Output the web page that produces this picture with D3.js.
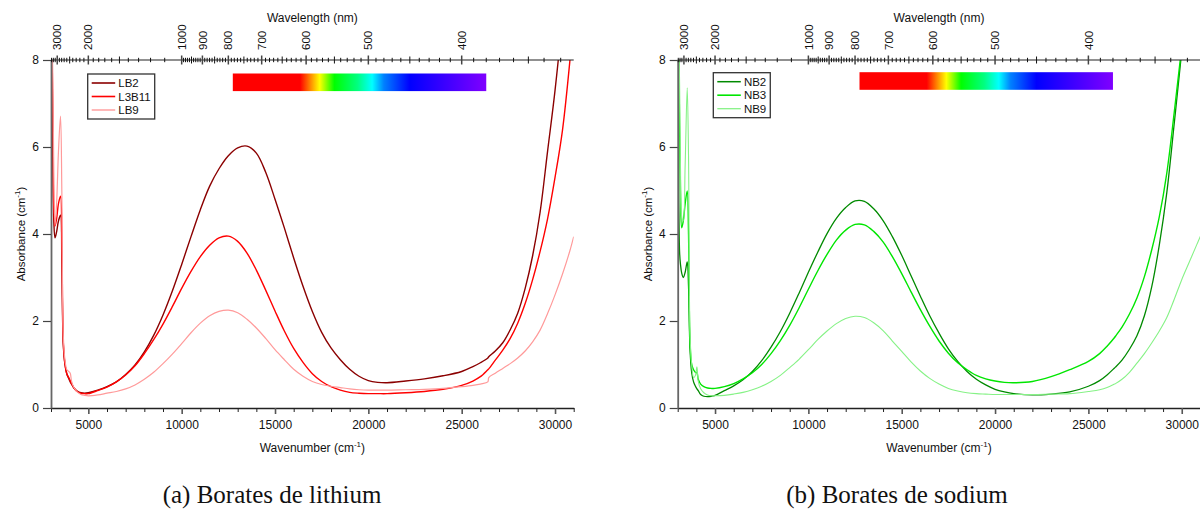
<!DOCTYPE html>
<html><head><meta charset="utf-8">
<script src="https://cdn.jsdelivr.net/npm/d3@7"></script>
<style>body{margin:0;background:#fff}svg{display:block}</style>
</head><body>
<svg id="chart" width="1200" height="513"></svg>
<script>
// ---------- data ----------
const wavenumbers = [3030,3100,3150,3214,3300,3400,3510,3580,3660,3750,
3850,3950,4030,4100,4230,4400,4600,4800,5000,5500,
6000,6500,7000,7500,8000,8500,9000,9500,10000,10500,
11000,11500,12000,12500,13000,13500,14000,14500,15000,15500,
16000,16500,17000,17500,18000,18500,19000,19500,20000,20500,
21000,22000,23000,24000,25000,25600,26000,26400,26450,26800,
27200,27600,28000,28400,28800,29200,29600,30000,30400,30800,
31000];
const LB2 = [9.5,6.0,4.3,3.91,4.05,4.3,4.43,3.3,1.45,1.0,
0.78,0.68,0.6,0.55,0.46,0.39,0.35,0.34,0.35,0.41,
0.49,0.60,0.77,0.99,1.29,1.67,2.14,2.69,3.30,3.94,
4.56,5.10,5.50,5.80,5.98,6.02,5.86,5.42,4.80,4.14,
3.45,2.80,2.22,1.74,1.38,1.11,0.89,0.73,0.63,0.59,
0.58,0.62,0.67,0.74,0.84,0.95,1.04,1.15,1.18,1.31,
1.50,1.80,2.18,2.75,3.50,4.50,5.90,7.30,9.0,11.0,
12.0];
const L3B11 = [9.5,6.5,4.6,4.18,4.35,4.7,4.87,3.8,1.5,1.0,
0.78,0.70,0.63,0.56,0.46,0.38,0.34,0.33,0.33,0.40,
0.48,0.60,0.76,0.97,1.25,1.57,1.93,2.33,2.75,3.14,
3.48,3.74,3.91,3.95,3.83,3.56,3.17,2.71,2.23,1.77,
1.37,1.05,0.79,0.61,0.49,0.41,0.36,0.34,0.33,0.33,
0.33,0.35,0.38,0.43,0.52,0.62,0.72,0.88,0.90,1.10,
1.33,1.60,1.95,2.40,2.95,3.60,4.35,5.30,6.39,8.0,
9.0];
const LB9 = [9.5,7.5,5.4,4.2,4.7,5.9,6.71,5.0,1.65,1.1,
0.88,0.84,0.80,0.62,0.47,0.37,0.31,0.29,0.28,0.30,
0.34,0.38,0.44,0.53,0.66,0.82,1.02,1.24,1.48,1.73,
1.95,2.12,2.22,2.25,2.19,2.04,1.84,1.60,1.34,1.11,
0.89,0.73,0.61,0.54,0.50,0.47,0.44,0.42,0.41,0.41,
0.41,0.42,0.43,0.45,0.49,0.52,0.55,0.60,0.70,0.80,
0.91,1.02,1.15,1.31,1.52,1.79,2.17,2.60,3.08,3.62,
3.94];
const NB2 = [9.5,3.6,3.3,3.1,3.0,3.12,3.36,2.8,1.35,0.81,
0.6,0.5,0.44,0.4,0.31,0.27,0.26,0.27,0.29,0.40,
0.51,0.65,0.84,1.09,1.40,1.76,2.18,2.64,3.12,3.58,
4.01,4.36,4.61,4.76,4.75,4.58,4.31,3.94,3.51,3.04,
2.57,2.12,1.72,1.36,1.07,0.84,0.66,0.53,0.43,0.37,
0.33,0.30,0.32,0.37,0.50,0.63,0.76,0.92,0.94,1.10,
1.35,1.66,2.12,2.80,3.75,4.95,6.55,8.2,10.0,12.0,
13.0];
const NB3 = [9.5,6.5,5.0,4.14,4.3,4.7,4.99,4.0,1.5,1.0,
0.88,0.82,0.81,0.66,0.55,0.49,0.46,0.45,0.45,0.49,
0.56,0.67,0.81,1.00,1.25,1.55,1.90,2.30,2.73,3.15,
3.53,3.86,4.09,4.22,4.21,4.06,3.82,3.48,3.09,2.67,
2.26,1.88,1.54,1.26,1.04,0.88,0.75,0.67,0.62,0.59,
0.58,0.61,0.72,0.88,1.07,1.25,1.42,1.62,1.65,1.86,
2.16,2.53,3.02,3.65,4.40,5.40,6.80,8.30,10.0,12.0,
13.0];
const NB9 = [9.5,7.5,5.5,4.4,4.3,5.6,7.36,5.8,1.7,1.0,
0.7,0.75,0.95,0.62,0.44,0.35,0.30,0.28,0.28,0.29,
0.32,0.36,0.42,0.50,0.61,0.75,0.93,1.12,1.34,1.57,
1.77,1.94,2.06,2.11,2.08,1.96,1.78,1.54,1.30,1.06,
0.85,0.68,0.55,0.45,0.39,0.35,0.33,0.32,0.31,0.31,
0.31,0.31,0.32,0.33,0.38,0.42,0.47,0.55,0.56,0.66,
0.82,1.03,1.25,1.50,1.77,2.08,2.50,2.95,3.35,3.75,
3.95];

const yTicks = [0, 2, 4, 6, 8];
const xMajorTicks = [5000, 10000, 15000, 20000, 25000, 30000];
const wavelengthLabels = [3000, 2000, 1000, 900, 800, 700, 600, 500, 400];
const wavelengthMedium = [2500, 1500, 950, 850, 750, 650, 550, 450, 350];
const spectrumNm = [785, 612, 593, 575, 550, 515, 495, 480, 450, 380];
const spectrumColors = ["#ff0000","#ff0000","#ff8000","#ffff00","#00ff00","#00ff80","#00ffff","#0080ff","#0000ff","#8000ff"];
const lithiumNames = ["LB2", "L3B11", "LB9"];
const sodiumNames = ["NB2", "NB3", "NB9"];
const captions = ["(a) Borates de lithium", "(b) Borates de sodium"];

// ---------- layout ----------
const FONT = "'Liberation Sans', Arial, Helvetica, sans-serif";
const W = 522.7, Y0 = 408, Y8 = 60;
const panels = [
  {origin: 51, names: lithiumNames, values: [LB2, L3B11, LB9],
   colors: ["#8b0000", "#ff0000", "#ff9a9a"], widths: [1.4, 1.4, 1.2],
   legend: {dx: 36.7, y: 74}, caption: captions[0]},
  {origin: 677.7, names: sodiumNames, values: [NB2, NB3, NB9],
   colors: ["#008a00", "#00e600", "#86f286"], widths: [1.3, 1.4, 1.1],
   legend: {dx: 35.6, y: 72.7}, caption: captions[1]}
];

const svg = d3.select("#chart");
svg.append("rect").attr("width", 1200).attr("height", 513).attr("fill", "#fff");
const defs = svg.append("defs");

panels.forEach((p, pi) => {
  const x = d3.scaleLinear().domain([3000, 31000]).range([p.origin, p.origin + W]);
  const y = d3.scaleLinear().domain([0, 8]).range([Y0, Y8]);
  const g = svg.append("g");

  // clip
  defs.append("clipPath").attr("id", "clip" + pi).append("rect")
    .attr("x", x(3000)).attr("y", y(8)).attr("width", x(31000) - x(3000)).attr("height", y(0) - y(8));

  // spectrum bar
  const bx1 = x(1e7 / spectrumNm[0]), bx2 = x(1e7 / spectrumNm[spectrumNm.length - 1]);
  const grad = defs.append("linearGradient").attr("id", "spec" + pi)
    .attr("gradientUnits", "userSpaceOnUse").attr("x1", bx1).attr("x2", bx2).attr("y1", 0).attr("y2", 0);
  spectrumNm.forEach((nm, i) => {
    grad.append("stop").attr("offset", (x(1e7 / nm) - bx1) / (bx2 - bx1)).attr("stop-color", spectrumColors[i]);
  });
  g.append("rect").attr("x", bx1).attr("width", bx2 - bx1)
    .attr("y", p.legend.y - 0.5).attr("height", 17.6).attr("fill", `url(#spec${pi})`);

  // series
  const line = d3.line().x(d => x(d[0])).y(d => y(d[1])).curve(d3.curveCatmullRom.alpha(0.5));
  const lines = g.append("g").attr("clip-path", `url(#clip${pi})`);
  p.values.forEach((vals, si) => {
    lines.append("path").datum(wavenumbers.map((w, k) => [w, vals[k]]))
      .attr("d", line).attr("fill", "none")
      .attr("stroke", p.colors[si]).attr("stroke-width", p.widths[si]).attr("stroke-linejoin", "round");
  });

  // bottom axis: minor then major
  const minorAx = d3.axisBottom(x).tickValues(d3.range(3000, 31001, 1000).filter(v => v % 5000 !== 0))
    .tickSize(4).tickSizeOuter(0).tickFormat("");
  const gb = g.append("g").attr("transform", `translate(0,${Y0})`).call(minorAx);
  gb.select(".domain").attr("stroke", "#222").attr("stroke-width", 1.3);
  gb.selectAll(".tick line").attr("stroke", "#222");
  const majorAx = d3.axisBottom(x).tickValues(xMajorTicks).tickSize(6).tickPadding(6)
    .tickSizeOuter(0).tickFormat(d3.format("d"));
  const gm = g.append("g").attr("transform", `translate(0,${Y0})`).call(majorAx);
  gm.select(".domain").remove();
  gm.selectAll(".tick line").attr("stroke", "#555").attr("stroke-width", 1.6);
  gm.selectAll("text").attr("font-family", FONT).attr("font-size", 12).attr("fill", "#111");

  // left axis
  const ya = d3.axisLeft(y).tickValues(yTicks).tickSize(8).tickPadding(4).tickSizeOuter(0);
  const gy = g.append("g").attr("transform", `translate(${x(3000)},0)`).call(ya);
  gy.select(".domain").attr("stroke", "#666").attr("stroke-width", 1.8);
  gy.selectAll(".tick line").attr("stroke", "#444").attr("stroke-width", 1.2);
  gy.selectAll("text").attr("font-family", FONT).attr("font-size", 12).attr("fill", "#111");

  // top wavelength axis
  g.append("line").attr("x1", x(3000)).attr("x2", x(31000)).attr("y1", Y8).attr("y2", Y8)
    .attr("stroke", "#222").attr("stroke-width", 1.2);
  const topTicks = [].concat(d3.range(3300, 999, -100), d3.range(990, 319, -10))
    .filter(nm => 1e7 / nm >= 3000 && 1e7 / nm <= 31000);
  g.append("g").selectAll("line").data(topTicks).join("line")
    .attr("x1", nm => x(1e7 / nm)).attr("x2", nm => x(1e7 / nm))
    .attr("y1", nm => Y8 - (wavelengthLabels.includes(nm) ? 4.5 : wavelengthMedium.includes(nm) ? 3.5 : 2.2))
    .attr("y2", nm => Y8 + (wavelengthLabels.includes(nm) ? 4.5 : wavelengthMedium.includes(nm) ? 3.5 : 2.2))
    .attr("stroke", nm => wavelengthLabels.includes(nm) ? "#444" : "#111")
    .attr("stroke-width", nm => wavelengthLabels.includes(nm) ? 1.5 : 1);
  g.append("g").selectAll("text").data(wavelengthLabels).join("text")
    .attr("transform", nm => `translate(${x(1e7 / nm)},50) rotate(-90)`)
    .attr("dy", "0.36em").attr("text-anchor", "start")
    .attr("font-family", FONT).attr("font-size", 11.5).attr("fill", "#111")
    .text(d => d);

  // axis titles
  const cx = (x(3000) + x(31000)) / 2;
  g.append("text").attr("x", cx).attr("y", 22).attr("text-anchor", "middle")
    .attr("font-family", FONT).attr("font-size", 12).attr("fill", "#111").text("Wavelength (nm)");
  const xt = g.append("text").attr("x", cx).attr("y", 452).attr("text-anchor", "middle")
    .attr("font-family", FONT).attr("font-size", 12).attr("fill", "#111");
  xt.append("tspan").text("Wavenumber (cm");
  xt.append("tspan").attr("font-size", 8).attr("dy", -5).text("-1");
  xt.append("tspan").attr("dy", 5).text(")");
  const ytt = g.append("text").attr("transform", `translate(${x(3000) - 26},${y(4)}) rotate(-90)`)
    .attr("text-anchor", "middle").attr("font-family", FONT).attr("font-size", 11.5).attr("fill", "#111");
  ytt.append("tspan").text("Absorbance (cm");
  ytt.append("tspan").attr("font-size", 8).attr("dy", -5).text("-1");
  ytt.append("tspan").attr("dy", 5).text(")");

  // legend
  const lg = g.append("g").attr("transform", `translate(${x(3000) + p.legend.dx},${p.legend.y})`);
  const box = lg.append("rect").attr("fill", "#fff").attr("stroke", "#333").attr("stroke-width", 1.3);
  let maxW = 0;
  p.names.forEach((nm, i) => {
    const yy = 9 + i * 13.5;
    lg.append("line").attr("x1", 4).attr("x2", 27.5).attr("y1", yy).attr("y2", yy)
      .attr("stroke", p.colors[i]).attr("stroke-width", p.widths[i] + 0.2);
    const t = lg.append("text").attr("x", 30.6).attr("y", yy + 4.2)
      .attr("font-family", FONT).attr("font-size", 11.5).attr("fill", "#111").text(nm);
    maxW = Math.max(maxW, t.node().getComputedTextLength());
  });
  box.attr("x", 0).attr("y", 0).attr("width", 30.6 + maxW + 4).attr("height", 45);

  // caption
  svg.append("text").attr("x", pi === 0 ? 272 : 897).attr("y", 503).attr("text-anchor", "middle")
    .attr("font-family", "'Liberation Serif', 'Times New Roman', serif").attr("font-size", 25)
    .attr("fill", "#111").text(p.caption);
});
</script>
</body></html>
